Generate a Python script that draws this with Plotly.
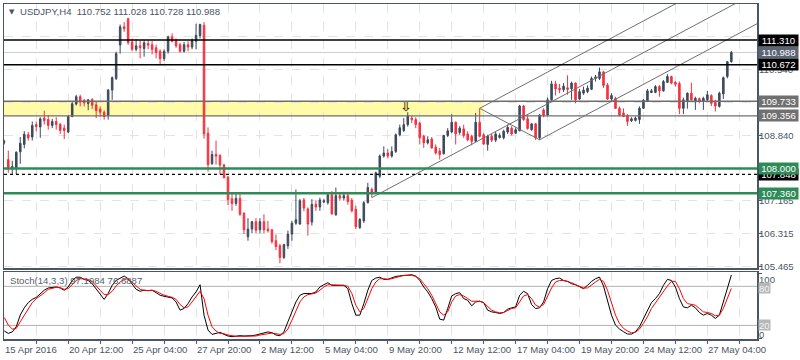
import plotly.graph_objects as go

# ---------------- data ----------------
opens = [108.68,108.23,108.02,108.02,108.43,108.62,108.87,108.81,109.13,109.07,
 109.30,109.26,109.11,109.21,109.14,109.04,108.94,109.34,109.66,109.85,
 109.76,109.67,109.78,109.64,109.53,109.45,109.37,110.02,110.32,111.18,
 111.65,111.86,111.26,111.07,111.16,111.09,111.22,111.19,111.11,111.02,
 110.83,111.02,111.39,111.30,111.19,111.02,111.19,111.13,111.28,111.42,
 111.69,108.91,108.12,108.36,108.34,108.09,107.78,107.22,107.10,107.23,
 106.85,106.24,106.44,106.63,106.42,106.63,106.44,106.42,106.14,106.01,
 105.71,106.01,106.31,106.59,106.57,107.19,106.96,106.62,107.08,107.01,
 107.14,107.12,107.32,106.81,107.30,107.24,107.30,107.18,106.95,106.48,
 106.65,107.12,107.46,107.38,107.80,108.32,108.40,108.32,108.44,108.87,
 108.98,109.13,109.30,109.26,109.17,108.83,108.66,108.76,108.55,108.45,
 108.38,108.85,108.94,109.19,108.93,109.02,108.89,108.83,108.70,109.19,
 108.87,108.62,108.83,108.73,108.80,108.79,108.94,109.04,108.91,108.97,
 109.61,109.28,109.00,109.15,108.79,109.51,109.38,109.77,110.18,110.07,
 110.03,110.08,110.05,110.20,109.79,109.94,109.98,110.04,110.32,110.32,
 110.49,110.15,109.79,109.81,109.55,109.43,109.37,109.23,109.24,109.26,
 109.55,109.73,109.96,109.96,110.11,110.00,110.22,110.37,110.22,110.19,
 109.55,109.74,109.94,109.74,109.80,109.74,109.77,109.88,109.70,109.60,
 109.92,110.37,110.752]
highs = [108.74,108.46,108.20,108.44,108.81,108.96,108.94,109.21,109.21,109.32,
 109.49,109.38,109.28,109.32,109.17,109.13,109.37,109.73,109.90,109.90,
 109.79,109.79,109.81,109.73,109.60,109.50,110.05,110.37,111.01,111.71,
 111.77,111.88,111.35,111.33,111.30,111.30,111.30,111.28,111.19,111.07,
 111.07,111.42,111.48,111.35,111.24,111.26,111.28,111.35,111.73,111.73,
 111.77,109.06,108.46,108.72,108.36,108.12,107.81,107.38,107.38,107.38,
 106.87,106.72,106.65,106.72,106.72,106.82,106.65,106.44,106.30,106.06,
 106.06,106.40,106.65,107.46,107.22,107.24,107.00,107.21,107.17,107.25,
 107.22,107.38,107.42,107.51,107.38,107.40,107.40,107.24,107.04,106.72,
 107.16,107.63,107.51,107.92,108.36,108.57,108.50,108.57,108.90,109.13,
 109.30,109.45,109.36,109.32,109.21,108.87,108.83,108.81,108.62,108.53,
 108.87,109.04,109.40,109.21,109.09,109.13,108.96,108.87,109.43,109.55,
 108.91,108.87,108.89,108.94,108.91,109.00,109.13,109.09,109.06,109.64,
 109.64,109.37,109.17,109.17,109.40,109.55,109.83,110.26,110.26,110.18,
 110.20,110.40,110.24,110.22,110.05,110.11,110.14,110.37,110.41,110.60,
 110.51,110.20,109.94,109.85,109.60,109.55,109.40,109.32,109.34,109.60,
 109.79,110.05,110.05,110.15,110.15,110.28,110.43,110.39,110.25,110.24,
 109.83,109.96,110.21,109.85,109.83,109.85,110.00,109.91,109.77,109.98,
 110.37,110.77,111.028]
lows = [108.62,107.89,107.85,107.85,108.12,108.52,108.72,108.72,108.96,108.79,
 109.13,109.00,109.04,109.00,108.89,108.76,108.91,109.32,109.62,109.60,
 109.60,109.50,109.53,109.30,109.34,109.26,109.26,109.77,110.28,110.96,
 111.52,111.19,111.02,111.02,110.84,110.88,111.07,110.94,110.84,110.66,
 110.77,110.96,111.25,111.11,110.99,110.99,111.02,111.07,111.07,111.35,
 108.77,107.92,108.10,108.10,107.85,107.75,107.06,106.91,107.04,106.78,
 106.31,106.14,106.33,106.33,106.33,106.33,106.35,106.06,105.90,105.56,
 105.67,105.93,106.14,106.55,106.55,106.90,106.27,106.53,106.91,106.91,
 107.11,107.07,106.81,106.78,107.17,107.17,107.07,106.87,106.44,106.44,
 106.60,107.10,107.25,107.35,107.75,108.28,108.26,108.28,108.40,108.83,
 108.94,109.08,109.17,109.04,108.62,108.53,108.62,108.51,108.36,108.23,
 108.36,108.81,108.91,108.62,108.87,108.79,108.70,108.60,108.68,108.80,
 108.60,108.46,108.68,108.68,108.77,108.75,108.89,108.85,108.89,108.96,
 109.23,109.00,108.97,108.74,108.74,109.32,109.35,109.71,109.88,109.94,
 109.97,109.90,109.77,109.68,109.77,109.90,109.94,110.02,110.24,110.28,
 110.08,109.77,109.74,109.54,109.34,109.32,109.10,109.20,109.21,109.15,
 109.54,109.71,109.94,109.94,109.85,109.98,110.20,110.17,110.11,109.40,
 109.40,109.54,109.74,109.51,109.68,109.51,109.74,109.61,109.47,109.57,
 109.79,110.32,110.728]
closes = [108.69,108.02,108.05,108.42,108.65,108.88,108.79,109.11,109.08,109.28,
 109.23,109.11,109.21,109.13,108.98,108.98,109.34,109.67,109.85,109.71,
 109.69,109.77,109.63,109.49,109.45,109.34,110.02,110.34,110.96,111.65,
 111.60,111.24,111.07,111.16,111.11,111.24,111.18,111.07,110.99,110.83,
 111.02,111.39,111.28,111.16,111.02,111.19,111.13,111.30,111.43,111.71,
 108.89,108.10,108.36,108.32,108.09,107.76,107.20,107.10,107.23,106.82,
 106.42,106.44,106.63,106.41,106.63,106.42,106.40,106.12,105.99,105.71,
 106.04,106.31,106.59,106.68,107.17,106.98,106.57,107.08,107.01,107.19,
 107.17,107.32,106.83,107.30,107.24,107.30,107.15,106.91,106.50,106.69,
 107.12,107.51,107.38,107.89,108.32,108.40,108.32,108.44,108.87,109.05,
 109.13,109.36,109.26,109.13,108.79,108.66,108.74,108.53,108.40,108.36,
 108.85,108.97,109.19,108.89,109.04,108.85,108.74,108.70,109.19,108.83,
 108.63,108.83,108.73,108.89,108.85,108.96,109.06,108.89,109.00,109.61,
 109.26,109.03,109.15,108.79,109.38,109.37,109.77,110.18,110.05,110.03,
 110.12,110.04,110.20,109.77,109.98,110.02,110.07,110.32,110.36,110.49,
 110.14,109.79,109.88,109.55,109.38,109.34,109.21,109.28,109.30,109.55,
 109.76,110.00,110.00,110.11,110.00,110.24,110.37,110.20,110.17,109.55,
 109.77,109.94,109.77,109.81,109.73,109.81,109.90,109.68,109.61,109.94,
 110.34,110.75,110.988]

stoch_k = [11.3,7.7,10,18,36,47,55,60,63,69,
 74,77.5,78.5,79,77.5,74,79,89,94,94,
 90.7,89,84,76.4,68.8,60,69,81.5,89,92.7,
 95.8,91.7,82.5,75.4,72.4,74,73.4,74,70.3,66.3,
 64.7,63.7,62.2,56,43.4,46,53.5,63.7,71.4,82.5,
 35.7,12.8,6.2,7.7,9.3,6.2,3.7,2.7,3.5,4.2,
 3.7,3.7,4.2,5.2,6.7,7.7,10,8.8,5.2,4.2,
 10,25.5,40.8,56,66.3,69,69,69,71.4,79,
 82.5,85.6,81.5,81.5,81.5,81.5,76.4,53.5,35.7,35.7,
 53.5,74,89,92.7,94,90.7,90.7,92.7,95.3,96,
 96.8,97.8,97.8,95.8,89,79,71.4,61.2,48.4,29.6,
 28.1,45.9,65.2,68.8,70.3,61.2,58.6,50,56,57.1,
 55,43.4,40.8,39.8,38.3,39.8,44.9,47,48.4,66.3,
 72.4,68.8,52,45.9,47,56,76.4,89,91.7,92.7,
 89,87.6,84,82.5,79,76.4,81.5,87.6,91.7,94.2,
 80.5,56,35.7,20.5,14.4,10.3,6.7,6.7,10.3,17.9,
 30.6,43.4,55.1,61.2,68.8,81.5,90.7,89,79,61.2,
 48.4,47,51,47,39.8,35.7,38.3,35.7,30.6,35.7,
 56,76.4,97.2]
stoch_d = [32,20.5,14.4,15.4,25.5,35.7,46,55,61,65,
 70,75.4,77.5,78.5,78,75.4,76.4,82.5,89,91.7,
 91.7,90.7,87.6,81.5,74,67.3,67.3,72.4,80.5,86.6,
 90.7,91.7,86.6,80,75.4,74,73.4,74,72.4,69.3,
 66.3,64.7,63.2,60,52,47,48.4,56,63.7,72.4,
 61,35.7,18,11.3,7.7,7.2,5.2,3.7,3.2,3.2,
 3.2,3.2,3.2,3.7,5.2,6.2,7.7,8.2,7.2,6.2,
 7.2,14.4,28,43.4,56,63.7,67.3,68.3,69.8,74,
 79,82.5,82.5,81.5,81.5,81.5,80,69,51,40.8,
 46,61,76.4,86.6,91.7,91.7,90.7,91.7,93.7,95.3,
 96.8,96.8,96.8,95.3,91.7,84,76.4,66.3,53.5,40.8,
 35.7,40.8,56,65.2,67.3,65.2,61.2,57.1,57.1,57.1,
 55,48.4,43.4,40.8,39.3,39.8,43.4,45.9,47,56,
 65.2,67.3,61.2,51,48.4,52,63.7,77.5,86.6,89,
 89,87.6,85.6,82.5,80.5,77.5,77.5,82.5,86.6,90.7,
 87.6,74,53.5,35.7,23,15.4,11.3,8.7,9.3,14.4,
 23,33.2,45.9,55,62.2,71.4,80.5,87.6,87.6,76.4,
 61.2,53.5,52,51,45.9,40.8,39.8,38.3,34.7,35.7,
 45.9,61.2,76.7]

time_labels = ["15 Apr 2016","20 Apr 12:00","25 Apr 04:00","27 Apr 20:00","2 May 12:00",
               "5 May 04:00","9 May 20:00","12 May 12:00","17 May 04:00","19 May 20:00",
               "24 May 12:00","27 May 04:00"]
bars_per_label = 16

title_text = "USDJPY,H4  110.752 111.028 110.728 110.988"
stoch_text = "Stoch(14,3,3) 97.1984 76.6887"

resist_lines = [111.310, 110.672]
band_levels = [109.356, 109.733]
band_end_bar = 119.9
support_lines = [108.000, 107.360]
dashed_level = 107.848
bid_price = 110.988
plain_price_ticks = [110.540, 108.840, 107.165, 106.315, 105.465]
grid_prices = [105.465, 106.315, 107.165, 107.99, 108.840, 109.69, 110.540, 111.39]

pitch_bars = [92.0, 119.0, 134.0]
pitch_prices = [107.25, 109.55, 108.74]
arrow_bar, arrow_price = 100.5, 109.58

# ---------------- styling ----------------
W, H = 800, 360
ML, MR, MT, MB = 3, 43, 2, 21
PW, PH = W - ML - MR, H - MT - MB
def pxx(x): return (x - ML) / PW
def pyy(y): return (H - MB - y) / PH

BULL = '#3d4a5b'
BEAR = '#f7303f'
BORDER = '#4b5563'
TXT = '#4a5566'
GRID = '#e3e3e3'
FONT = 'Liberation Sans'
FS = 9.6

n = len(closes)
idx = list(range(n))
xr = [-0.075, 188.425]

fig = go.Figure()

fig.add_trace(go.Candlestick(
    x=idx, open=opens, high=highs, low=lows, close=closes,
    increasing=dict(line=dict(color=BULL, width=1), fillcolor=BULL),
    decreasing=dict(line=dict(color=BEAR, width=1), fillcolor=BEAR),
    whiskerwidth=0, hoverinfo='skip', showlegend=False, xaxis='x', yaxis='y'))

(x1, y1), (x2, y2), (x3, y3) = zip(pitch_bars, pitch_prices)
mx, my = (x2 + x3) / 2, (y2 + y3) / 2
slope = (my - y1) / (mx - x1)
xend = 200
for sx, sy in [(x1, y1), (x2, y2), (x3, y3)]:
    fig.add_trace(go.Scatter(x=[sx, xend], y=[sy, sy + slope * (xend - sx)], mode='lines',
                             line=dict(color='#6f6f6f', width=1), hoverinfo='skip',
                             showlegend=False, xaxis='x', yaxis='y'))
fig.add_trace(go.Scatter(x=[x2, x3], y=[y2, y3], mode='lines',
                         line=dict(color='#6f6f6f', width=1), hoverinfo='skip',
                         showlegend=False, xaxis='x', yaxis='y'))

fig.add_trace(go.Scatter(x=[arrow_bar], y=[arrow_price], mode='text', text=['⬇'],
                         textfont=dict(size=12, color='#e8dc4a', family='DejaVu Sans'),
                         hoverinfo='skip', showlegend=False, xaxis='x', yaxis='y'))
fig.add_trace(go.Scatter(x=[arrow_bar], y=[arrow_price], mode='text', text=['⇩'],
                         textfont=dict(size=14, color='#222222', family='DejaVu Sans'),
                         hoverinfo='skip', showlegend=False, xaxis='x', yaxis='y'))

fig.add_trace(go.Scatter(x=idx, y=stoch_k, mode='lines', line=dict(color='#000000', width=1),
                         hoverinfo='skip', showlegend=False, xaxis='x2', yaxis='y2'))
fig.add_trace(go.Scatter(x=idx, y=stoch_d, mode='lines', line=dict(color='#ff0000', width=1),
                         hoverinfo='skip', showlegend=False, xaxis='x2', yaxis='y2'))

shapes = []
shapes.append(dict(type='rect', xref='x', yref='y', x0=xr[0], x1=band_end_bar,
                   y0=band_levels[0], y1=band_levels[1], fillcolor='#fffba6',
                   line=dict(width=0), layer='below'))
for lv in band_levels:
    shapes.append(dict(type='line', xref='paper', yref='y', x0=0, x1=1, y0=lv, y1=lv,
                       line=dict(color='#6e6e6e', width=1.3)))
shapes.append(dict(type='line', xref='paper', yref='y', x0=0, x1=1, y0=bid_price, y1=bid_price,
                   line=dict(color='#cfcfcf', width=1), layer='below'))
for lv in resist_lines:
    shapes.append(dict(type='line', xref='paper', yref='y', x0=0, x1=1, y0=lv, y1=lv,
                       line=dict(color='#000000', width=1.4)))
for lv in support_lines:
    shapes.append(dict(type='line', xref='paper', yref='y', x0=0, x1=1, y0=lv, y1=lv,
                       line=dict(color='#2e8b57', width=2.5)))
shapes.append(dict(type='line', xref='paper', yref='y', x0=0, x1=1, y0=dashed_level, y1=dashed_level,
                   line=dict(color='#000000', width=1.3, dash='3px,3px')))
for lv in [20, 80]:
    shapes.append(dict(type='line', xref='paper', yref='y2', x0=0, x1=1, y0=lv, y1=lv,
                       line=dict(color='#b0b0b0', width=1), layer='below'))

ann = []
ann.append(dict(text='▼', xref='paper', yref='paper', x=pxx(6), y=pyy(10), xanchor='left',
                yanchor='middle', showarrow=False, font=dict(size=7, color=TXT, family='DejaVu Sans')))
ann.append(dict(text=title_text, xref='paper', yref='paper', x=pxx(17), y=pyy(10), xanchor='left',
                yanchor='middle', showarrow=False, font=dict(size=FS, color=TXT, family=FONT)))
ann.append(dict(text=stoch_text, xref='paper', yref='paper', x=pxx(7), y=pyy(280), xanchor='left',
                yanchor='middle', showarrow=False, font=dict(size=FS, color='#555f6b', family=FONT)))

def plabel(val, bg=None, fg=TXT):
    d = dict(text=f"{val:.3f}", xref='paper', yref='y', x=1, y=val, xanchor='left', yanchor='middle',
             xshift=1, showarrow=False, font=dict(size=FS, color=fg, family=FONT), borderpad=0,
             height=11)
    if bg:
        d['bgcolor'] = bg
        d['width'] = 39
    return d
for v in plain_price_ticks:
    ann.append(plabel(v))
ann.append(plabel(dashed_level, '#000000', '#ffffff'))
ann.append(plabel(band_levels[1], '#707070', '#ffffff'))
ann.append(plabel(band_levels[0], '#707070', '#ffffff'))
ann.append(plabel(support_lines[0], '#2e8b57', '#ffffff'))
ann.append(plabel(support_lines[1], '#2e8b57', '#ffffff'))
ann.append(plabel(bid_price, '#5b6573', '#ffffff'))
ann.append(plabel(resist_lines[0], '#000000', '#ffffff'))
ann.append(plabel(resist_lines[1], '#000000', '#ffffff'))

for txt, ypx, bg in [("100", 279, None), ("0", 334, None), ("80", 288, '#b8b8b8'), ("20", 325, '#b8b8b8')]:
    d = dict(text=txt, xref='paper', yref='paper', x=1, y=pyy(ypx), xanchor='left', yanchor='middle',
             xshift=1, showarrow=False, borderpad=0, height=10,
             font=dict(size=FS, color=('#f2f2f2' if bg else TXT), family=FONT))
    if bg:
        d['bgcolor'] = bg
    ann.append(d)

for i, t in enumerate(time_labels):
    ann.append(dict(text=t, xref='x2', yref='paper', x=i * bars_per_label, y=pyy(350),
                    xanchor='left', yanchor='middle', xshift=-1, showarrow=False,
                    font=dict(size=FS, color=TXT, family=FONT)))

axis_common = dict(showline=True, mirror=True, linecolor=BORDER, linewidth=1.5, zeroline=False)
fig.update_layout(
    width=W, height=H, margin=dict(l=ML, r=MR, t=MT, b=MB),
    paper_bgcolor='white', plot_bgcolor='white', showlegend=False,
    boxgap=0.45,
    xaxis=dict(domain=[0, 1], range=xr, anchor='y', showticklabels=False,
               tickvals=list(range(8, 189, 8)), showgrid=True, gridcolor=GRID, griddash='dash',
               rangeslider=dict(visible=False), **axis_common),
    yaxis=dict(domain=[pyy(268), 1], range=[105.426, 112.238], side='right', tickvals=grid_prices,
               showticklabels=False, showgrid=True, gridcolor=GRID, griddash='dash',
               ticks='outside', ticklen=3, tickcolor=BORDER, **axis_common),
    xaxis2=dict(domain=[0, 1], range=xr, anchor='y2', showticklabels=False,
                tickvals=list(range(8, 189, 8)), showgrid=True, gridcolor=GRID, griddash='dash',
                ticks='outside', ticklen=3, tickcolor=BORDER, **axis_common),
    yaxis2=dict(domain=[0, pyy(272)], range=[-0.9, 101.4], side='right', tickvals=[0, 20, 80, 100],
                showticklabels=False, showgrid=False, ticks='outside', ticklen=3, tickcolor=BORDER,
                **axis_common),
    shapes=shapes, annotations=ann)

fig.write_html("out.html", config={'displayModeBar': False, 'staticPlot': True},
               post_script="document.body.style.margin='0';document.body.style.overflow='hidden';")
